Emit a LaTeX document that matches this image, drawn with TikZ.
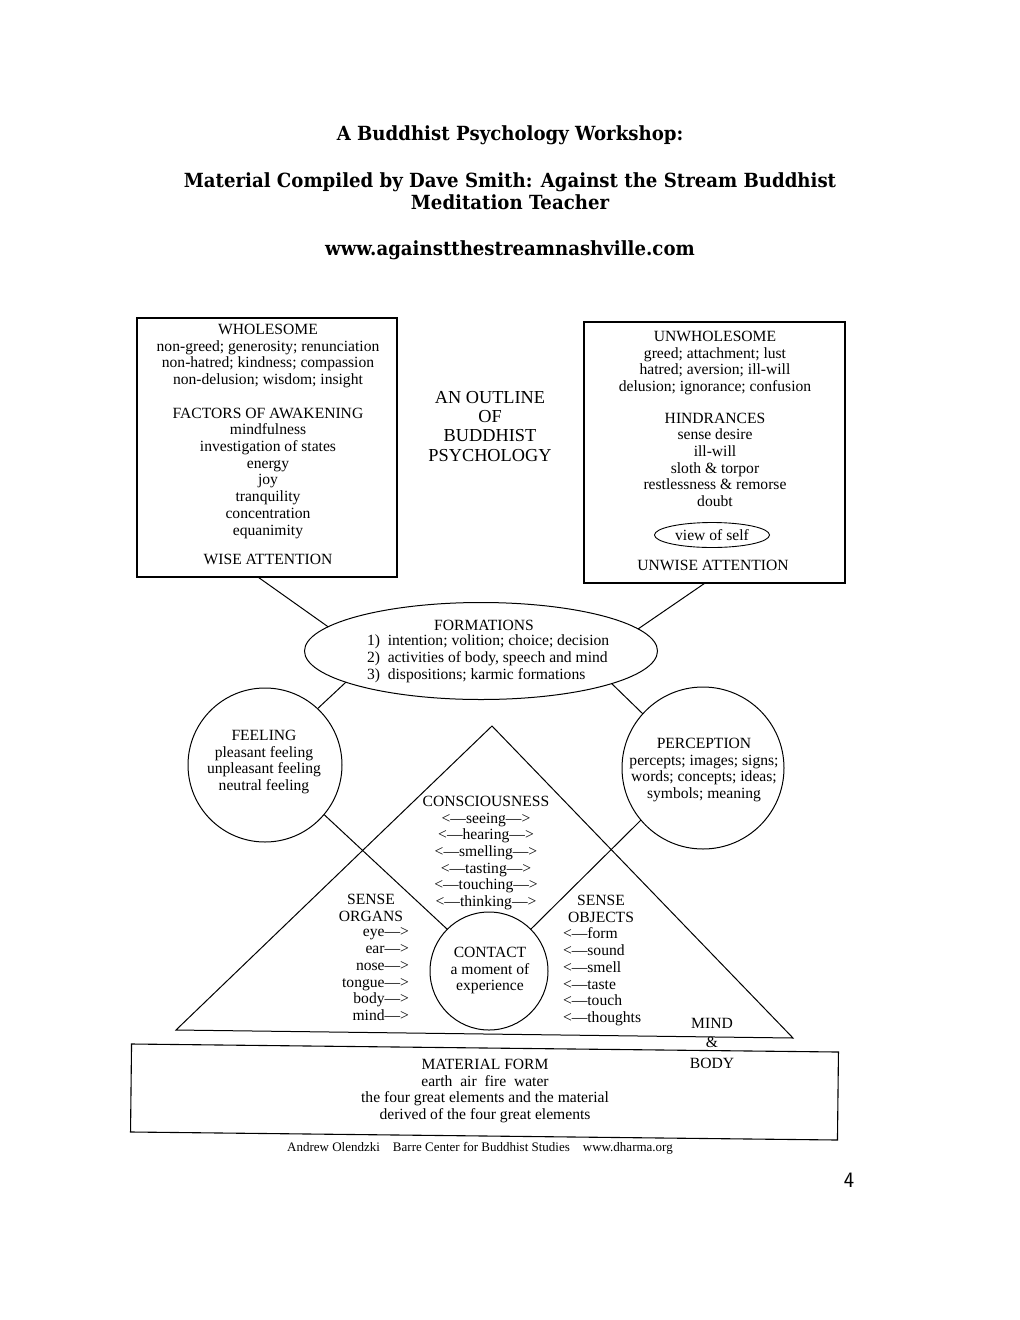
\documentclass[tikz,border=0pt]{standalone}
\usepackage{fontspec}
\setmainfont{Liberation Serif}
\newfontfamily\titlefont{DejaVu Serif}[FakeStretch=0.93]
\usetikzlibrary{shapes.geometric,calc}
\begin{document}
\begin{tikzpicture}[x=1pt,y=-1pt,
  every node/.style={inner sep=0pt, outer sep=0pt},
  txt/.style={font=\fontsize{15.6}{16.7}\selectfont, align=center},
  box/.style={draw, line width=1.1pt, rectangle},
  ln/.style={line width=1pt},
  ttl/.style={font=\titlefont\bfseries\fontsize{19.5}{23}\selectfont}
]
\fill[white] (0,0) rectangle (1020,1320);
\useasboundingbox (0,0) rectangle (1020,1320);

% titles
\node[ttl, anchor=base] (t1) at (510,140) {A Buddhist Psychology Workshop:};
\node[ttl, anchor=base] (t2) at (510,187) {Material Compiled by Dave Smith: Against the Stream Buddhist};
\node[ttl, anchor=base] (t3) at (510,209) {Meditation Teacher};
\node[ttl, anchor=base] (t4) at (510,255) {www.againstthestreamnashville.com};

% left box
\node[box, minimum width=260, minimum height=259, anchor=north west] (lbox) at (137,318) {};
\node[txt, anchor=north] (ltext) at (268,324) {WHOLESOME\\non-greed; generosity; renunciation\\non-hatred; kindness; compassion\\non-delusion; wisdom; insight\\[17pt]FACTORS OF AWAKENING\\mindfulness\\investigation of states\\energy\\joy\\tranquility\\concentration\\equanimity\\[13pt]WISE ATTENTION};

% right box
\node[box, minimum width=261, minimum height=261, anchor=north west] (rbox) at (584,322) {};
\node[txt, anchor=north] (rtext) at (715,331) {UNWHOLESOME\\greed; attachment; lust\\hatred; aversion; ill-will\\delusion; ignorance; confusion\\[15pt]HINDRANCES\\sense desire\\ill-will\\sloth \& torpor\\restlessness \& remorse\\doubt};
\node[draw, ellipse, line width=0.9pt, minimum width=115, minimum height=25, txt] (vself) at (712,535) {view of self};
\node[txt, anchor=base] (unwise) at (713,570) {UNWISE ATTENTION};

% title of outline
\node[font=\fontsize{18.3}{19.3}\selectfont, align=center, anchor=north] (outline) at (490,391) {AN OUTLINE\\OF\\BUDDHIST\\PSYCHOLOGY};

% formations
\node[draw, ellipse, ln, minimum width=353, minimum height=97] (form) at (481,651) {};
\node[txt, anchor=base] (fhead) at (484,630) {FORMATIONS};
\node[txt, align=left, anchor=north west] (flist) at (367,635) {1)\ \ intention; volition; choice; decision\\2)\ \ activities of body, speech and mind\\3)\ \ dispositions; karmic formations};

% feeling
\node[draw, circle, ln, minimum size=154] (feel) at (265,765) {};
\node[txt, anchor=north] (feeltxt) at (264,730) {FEELING\\pleasant feeling\\unpleasant feeling\\neutral feeling};

% perception
\node[draw, circle, ln, minimum size=162] (perc) at (703,768) {};
\node[txt, anchor=north] (perctxt) at (704,738) {PERCEPTION\\percepts; images; signs;\\words; concepts; ideas;\\symbols; meaning};

% triangle
\coordinate (apex) at (492,726);
\coordinate (tl) at (176,1030);
\coordinate (tr) at (793,1038);
\draw[ln] (apex) -- (tl) -- (tr) -- cycle;

% consciousness
\node[txt, anchor=north] (consc) at (486,796) {CONSCIOUSNESS\\<—seeing—>\\<—hearing—>\\<—smelling—>\\<—tasting—>\\<—touching—>\\<—thinking—>};

% contact
\node[draw, circle, ln, minimum size=118] (contact) at (489,971) {};
\node[txt, anchor=north] (contxt) at (490,947) {CONTACT\\a moment of\\experience};

% sense organs / objects
\node[txt, anchor=north] (sohead) at (371,894) {SENSE\\ORGANS};
\node[txt, align=right, anchor=north east] (solist) at (409,928) {eye—>\\ear—>\\nose—>\\tongue—>\\body—>\\mind—>};
\node[txt, anchor=north] (sbhead) at (601,895) {SENSE\\OBJECTS};
\node[txt, align=left, anchor=north west] (sblist) at (563,928) {<—form\\<—sound\\<—smell\\<—taste\\<—touch\\<—thoughts};

% mind & body
\node[txt, anchor=base] (mind) at (712,1028) {MIND};
\node[txt, anchor=base] (amp) at (712,1047) {\&};
\node[txt, anchor=base] (body) at (712,1068) {BODY};

% material form
\node[box, rotate=-0.65, minimum width=707, minimum height=88] (mat) at (484.5,1092) {};
\node[txt, anchor=north] (mattxt) at (485,1059) {MATERIAL FORM\\earth\ \ air\ \ fire\ \ water\\the four great elements and the material\\derived of the four great elements};

% footer
\node[font=\fontsize{13}{15}\selectfont, anchor=base] (foot) at (480,1151) {Andrew Olendzki\quad Barre Center for Buddhist Studies\quad www.dharma.org};
\node[font=\fontsize{22}{22}\selectfont\sffamily] (pg) at (849,1180) {4};

% connectors
\draw[ln] ($(lbox.south west)!0.465!(lbox.south east)$) -- (form.171);
\draw[ln] ($(rbox.south west)!0.464!(rbox.south east)$) -- (form.8);
\draw[ln] (form.193) -- (feel.47);
\draw[ln] (form.346) -- (perc.138);
\draw[ln] (feel.-40) -- (contact.135);
\draw[ln] (perc.220) -- (contact.45);
\end{tikzpicture}
\end{document}
